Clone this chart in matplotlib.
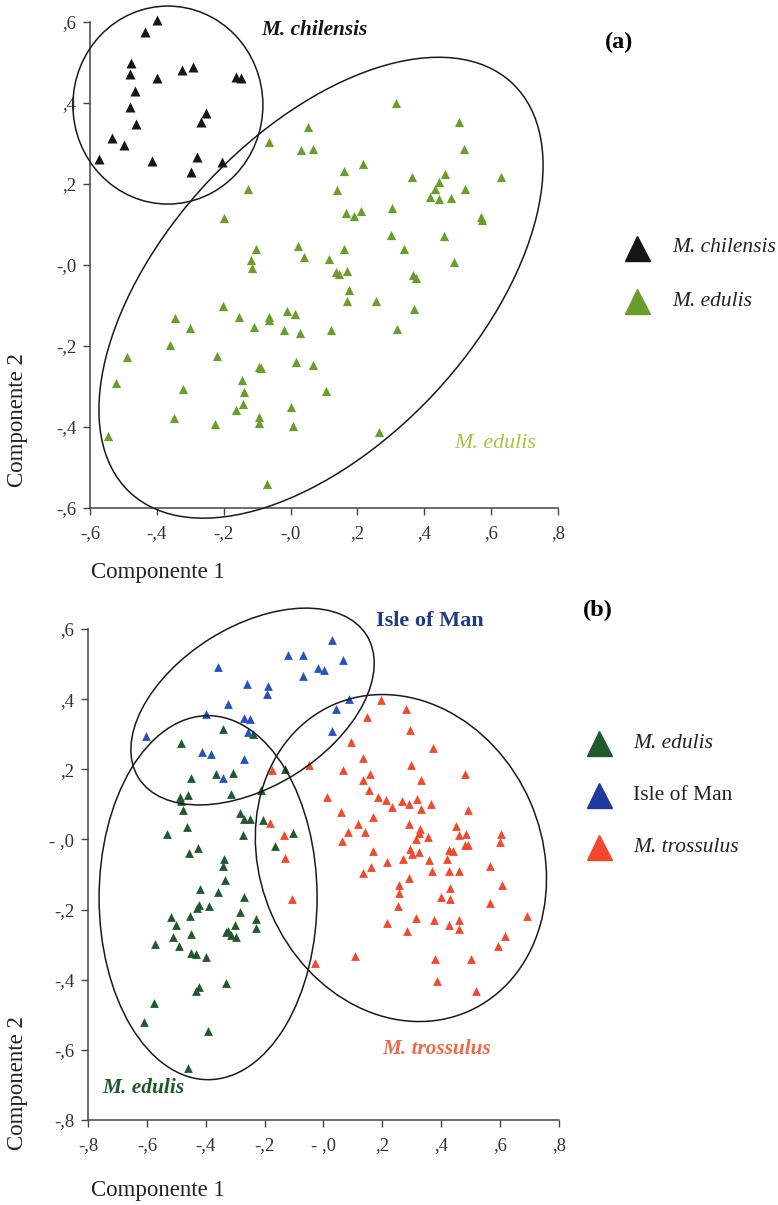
import matplotlib
matplotlib.use('Agg')
import matplotlib.pyplot as plt
from matplotlib.patches import Ellipse
from matplotlib.lines import Line2D
from matplotlib.transforms import ScaledTranslation

plt.rcParams['font.family'] = 'Liberation Serif'

# Datos panel (a)
chil_x = [-0.401, -0.436, -0.478, -0.481, -0.401, -0.326, -0.293, -0.162, -0.147, -0.464, -0.481,
          -0.252, -0.269, -0.461, -0.535, -0.498, -0.573, -0.414, -0.281, -0.204, -0.299]
chil_y = [0.605, 0.576, 0.499, 0.472, 0.462, 0.481, 0.490, 0.465, 0.461, 0.430, 0.391,
          0.376, 0.354, 0.348, 0.313, 0.296, 0.263, 0.256, 0.267, 0.255, 0.230]

edul_a_x = [0.316, 0.504, 0.052, -0.065, 0.030, 0.067, 0.519, 0.218, 0.159, 0.462, 0.363, 0.629,
            0.445, -0.127, 0.139, 0.433, 0.521, 0.418, 0.445, 0.480, 0.304, 0.166, 0.189, 0.211,
            0.571, 0.573, -0.200, 0.301, 0.460, 0.022, -0.102, 0.161, 0.340, 0.039, 0.114, -0.119,
            0.488, -0.116, 0.168, 0.136, 0.144, 0.365, 0.375, 0.176, 0.168, 0.256, -0.202, -0.010,
            0.013, 0.370, -0.345, -0.155, -0.066, -0.066, -0.302, -0.108, -0.020, 0.027, 0.122,
            0.319, -0.361, -0.488, -0.220, 0.017, 0.067, -0.095, -0.088, -0.522, -0.145, -0.322,
            -0.139, 0.107, -0.143, 0.002, -0.164, -0.348, -0.095, -0.093, -0.226, 0.007, -0.547,
            0.266, -0.072]
edul_a_y = [0.399, 0.354, 0.340, 0.304, 0.284, 0.286, 0.286, 0.249, 0.233, 0.224, 0.217, 0.218,
            0.206, 0.187, 0.185, 0.188, 0.188, 0.169, 0.162, 0.165, 0.142, 0.128, 0.121, 0.133,
            0.118, 0.111, 0.115, 0.074, 0.072, 0.047, 0.040, 0.039, 0.040, 0.019, 0.014, 0.012,
            0.007, -0.008, -0.014, -0.018, -0.022, -0.025, -0.033, -0.062, -0.089, -0.089, -0.100,
            -0.113, -0.121, -0.109, -0.132, -0.128, -0.128, -0.136, -0.155, -0.152, -0.161, -0.169,
            -0.161, -0.158, -0.198, -0.226, -0.224, -0.239, -0.247, -0.251, -0.255, -0.292, -0.284,
            -0.306, -0.313, -0.310, -0.344, -0.351, -0.358, -0.378, -0.375, -0.389, -0.393, -0.397,
            -0.423, -0.412, -0.541]

# Datos panel (b)
isle_x = [0.028, -0.119, -0.071, 0.067, -0.360, -0.017, 0.003, -0.069, -0.260, -0.187, -0.192, 0.088,
          -0.323, 0.042, -0.400, -0.269, -0.250, 0.028, -0.258, -0.604, -0.413, -0.382, -0.269, -0.340]
isle_y = [0.569, 0.526, 0.526, 0.513, 0.491, 0.488, 0.483, 0.466, 0.442, 0.437, 0.416, 0.400,
          0.385, 0.371, 0.357, 0.345, 0.344, 0.309, 0.307, 0.294, 0.249, 0.245, 0.229, 0.175]

edul_b_x = [-0.343, -0.485, -0.239, -0.451, -0.366, -0.309, -0.130, -0.487, -0.459, -0.315, -0.483,
            -0.211, -0.477, -0.284, -0.269, -0.250, -0.205, -0.105, -0.530, -0.462, -0.272, -0.164,
            -0.457, -0.426, -0.338, -0.343, -0.334, -0.419, -0.359, -0.269, -0.423, -0.389, -0.429,
            -0.282, -0.519, -0.454, -0.230, -0.502, -0.228, -0.300, -0.332, -0.323, -0.315, -0.298,
            -0.449, -0.511, -0.572, -0.491, -0.451, -0.434, -0.398, -0.332, -0.423, -0.432, -0.575,
            -0.610, -0.392, -0.459]
edul_b_y = [0.314, 0.276, 0.302, 0.175, 0.188, 0.189, 0.200, 0.121, 0.126, 0.131, 0.109, 0.142,
            0.083, 0.075, 0.057, 0.059, 0.056, 0.019, 0.016, 0.035, 0.012, -0.019, -0.038, -0.025,
            -0.055, -0.076, -0.115, -0.141, -0.151, -0.163, -0.186, -0.191, -0.195, -0.206, -0.220,
            -0.217, -0.227, -0.243, -0.252, -0.244, -0.265, -0.260, -0.272, -0.279, -0.269, -0.277,
            -0.298, -0.305, -0.323, -0.327, -0.336, -0.408, -0.422, -0.431, -0.467, -0.520, -0.546,
            -0.651]

tros_x = [0.196, 0.281, 0.148, 0.295, 0.095, 0.371, 0.133, 0.298, 0.067, -0.048, -0.175, 0.158,
          0.481, 0.133, 0.332, 0.156, 0.012, 0.186, 0.213, 0.233, 0.267, 0.289, 0.317, 0.332,
          0.366, 0.492, 0.059, 0.169, -0.181, 0.116, 0.084, 0.142, 0.292, 0.451, 0.462, 0.485,
          0.329, 0.326, 0.315, 0.354, 0.604, 0.598, -0.133, 0.062, 0.482, 0.492, 0.167, 0.294,
          0.301, 0.323, 0.428, 0.441, 0.419, -0.130, 0.269, 0.215, 0.360, 0.162, 0.133, 0.369,
          0.428, 0.459, 0.564, 0.292, 0.255, 0.255, 0.431, 0.606, 0.400, 0.430, 0.252, 0.566,
          -0.107, 0.691, 0.315, 0.377, 0.462, 0.425, 0.459, 0.215, 0.283, 0.617, 0.593, 0.108,
          0.380, 0.502, 0.386, 0.519, -0.028]
tros_y = [0.399, 0.373, 0.348, 0.313, 0.278, 0.261, 0.232, 0.211, 0.199, 0.213, 0.197, 0.186,
          0.186, 0.169, 0.169, 0.142, 0.121, 0.121, 0.112, 0.092, 0.109, 0.100, 0.114, 0.086,
          0.100, 0.083, 0.078, 0.064, 0.047, 0.043, 0.021, 0.021, 0.043, 0.037, 0.014, 0.016,
          0.031, 0.018, 0.000, 0.007, 0.016, -0.008, 0.014, -0.003, -0.017, -0.017, -0.034, -0.027,
          -0.041, -0.037, -0.031, -0.033, -0.056, -0.052, -0.055, -0.065, -0.060, -0.079, -0.095,
          -0.091, -0.091, -0.091, -0.077, -0.111, -0.129, -0.152, -0.138, -0.131, -0.165, -0.171,
          -0.191, -0.182, -0.169, -0.218, -0.224, -0.231, -0.231, -0.244, -0.256, -0.238, -0.260,
          -0.274, -0.303, -0.331, -0.341, -0.341, -0.403, -0.431, -0.352]

# Ticks
a_xticks = [-0.6, -0.4, -0.2, 0.0, 0.2, 0.4, 0.6, 0.8]
a_xlabels = ['-,6', '-,4', '-,2', '-,0', ',2', ',4', ',6', ',8']
a_yticks = [-0.6, -0.4, -0.2, 0.0, 0.2, 0.4, 0.6]
a_ylabels = ['-,6', '-,4', '-,2', '-,0', ',2', ',4', ',6']
b_xticks = [-0.8, -0.6, -0.4, -0.2, 0.0, 0.2, 0.4, 0.6, 0.8]
b_xlabels = ['-,8', '-,6', '-,4', '-,2', '- ,0', ',2', ',4', ',6', ',8']
b_yticks = [-0.8, -0.6, -0.4, -0.2, 0.0, 0.2, 0.4, 0.6]
b_ylabels = ['-,8', '-,6', '-,4', '-,2', '- ,0', ',2', ',4', ',6']

# Elipses: centro (datos), ancho/alto (pulgadas), angulo
ell_a = [((-0.367, 0.395), 1.90, 1.98, 0), ((0.091, -0.056), 5.60, 3.10, 47)]
ell_b = [((-0.241, 0.379), 2.69, 1.60, 32), ((-0.392, -0.166), 2.18, 3.64, 0),
         ((0.263, -0.053), 3.35, 2.82, 113.7)]

c_black = '#161616'
c_green = '#6a9e2a'
c_green_txt = '#a9c43f'
c_dkgreen = '#1f5a2e'
c_blue = '#2452c4'
c_blue_txt = '#1f3a8c'
c_red = '#f2482c'
c_red_txt = '#f06a4a'

fig = plt.figure(figsize=(7.78, 12.05), dpi=100)
ax1 = fig.add_axes([0.1157, 0.5784, 0.6015, 0.4033])
ax2 = fig.add_axes([0.1131, 0.0705, 0.6054, 0.4075])


def style_axes(ax, xt, xl, yt, yl):
    for s in ['top', 'right']:
        ax.spines[s].set_visible(False)
    for s in ['left', 'bottom']:
        ax.spines[s].set_color('#444444')
        ax.spines[s].set_linewidth(1.1)
    ax.set_xticks(xt)
    ax.set_xticklabels(xl)
    ax.set_yticks(yt)
    ax.set_yticklabels(yl)
    ax.tick_params(axis='both', direction='out', length=5, width=1, color='#444444',
                   labelsize=13.5, labelcolor='#333333')
    ax.tick_params(axis='x', pad=7)
    ax.tick_params(axis='y', pad=5)


def draw_ellipses(ax, ells):
    for (cx, cy), w, h, ang in ells:
        tr = fig.dpi_scale_trans + ScaledTranslation(cx, cy, ax.transData)
        e = Ellipse((0, 0), w, h, angle=ang, transform=tr, fill=False,
                    edgecolor='#1a1a1a', linewidth=1.1, clip_on=False, zorder=3)
        ax.add_patch(e)


# Panel (a)
ax1.scatter(chil_x, chil_y, marker='^', s=52, color=c_black, linewidths=0, clip_on=False, zorder=2)
ax1.scatter(edul_a_x, edul_a_y, marker='^', s=44, color=c_green, linewidths=0, clip_on=False, zorder=2)
ax1.set_xlim(-0.6, 0.8)
ax1.set_ylim(-0.6, 0.6)
style_axes(ax1, a_xticks, a_xlabels, a_yticks, a_ylabels)
draw_ellipses(ax1, ell_a)
ax1.text(-0.087, 0.58, 'M. chilensis', fontsize=15.3, fontweight='bold', style='italic',
         color=c_black, va='center', ha='left')
ax1.text(0.49, -0.44, 'M. edulis', fontsize=15.8, style='italic', color=c_green_txt,
         va='center', ha='left')

# Panel (b)
ax2.scatter(edul_b_x, edul_b_y, marker='^', s=40, color=c_dkgreen, linewidths=0, clip_on=False, zorder=2)
ax2.scatter(isle_x, isle_y, marker='^', s=40, color=c_blue, linewidths=0, clip_on=False, zorder=2)
ax2.scatter(tros_x, tros_y, marker='^', s=40, color=c_red, linewidths=0, clip_on=False, zorder=2)
ax2.set_xlim(-0.8, 0.8)
ax2.set_ylim(-0.8, 0.6)
style_axes(ax2, b_xticks, b_xlabels, b_yticks, b_ylabels)
draw_ellipses(ax2, ell_b)
ax2.text(0.18, 0.623, 'Isle of Man', fontsize=16, fontweight='bold', color=c_blue_txt,
         va='center', ha='left')
ax2.text(0.2, -0.597, 'M. trossulus', fontsize=15.3, fontweight='bold', style='italic',
         color=c_red_txt, va='center', ha='left')
ax2.text(-0.752, -0.709, 'M. edulis', fontsize=15.4, fontweight='bold', style='italic',
         color=c_dkgreen, va='center', ha='left')

# Etiquetas de ejes
for y_c1, y_c2 in [(0.5253, 0.6515), (0.0124, 0.1012)]:
    fig.text(0.117, y_c1, 'Componente 1', fontsize=16.5, color='#222222', va='center', ha='left')
    fig.text(0.0231, y_c2, 'Componente 2', fontsize=16.5, color='#222222', va='center',
             ha='center', rotation=90)

fig.text(0.7956, 0.9651, '(a)', fontsize=17.5, fontweight='bold', ha='center', va='center')
fig.text(0.7686, 0.4938, '(b)', fontsize=17.5, fontweight='bold', ha='center', va='center')

# Leyendas
leg_a = [(c_black, 'M. chilensis', 'italic', 248), (c_green, 'M. edulis', 'italic', 301)]
leg_b = [(c_dkgreen, 'M. edulis', 'italic', 743), ('#1f3a9c', 'Isle of Man', 'normal', 795),
         (c_red, 'M. trossulus', 'italic', 847)]
for items, mx, tx in [(leg_a, 637, 672), (leg_b, 599, 633)]:
    for col, lab, sty, py in items:
        yf = 1 - py / 1205
        fig.add_artist(Line2D([mx / 778], [yf], transform=fig.transFigure, marker='^',
                              markersize=18, color=col, linestyle='none'))
        fig.text(tx / 778, yf, lab, fontsize=15.5, style=sty, color='#222222',
                 va='center', ha='left')

fig.savefig('out.png', dpi=100)
